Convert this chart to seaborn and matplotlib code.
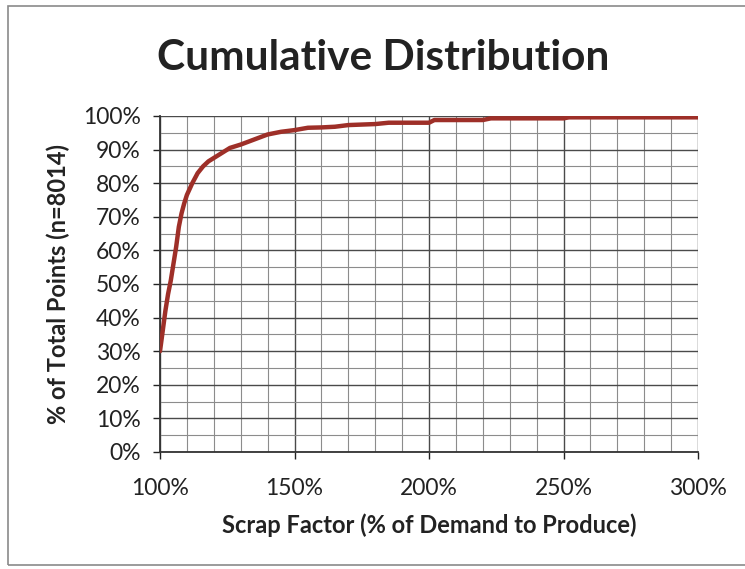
import matplotlib
matplotlib.use("Agg")
import matplotlib.pyplot as plt
import matplotlib.ticker as mticker
from matplotlib.patches import Rectangle
import numpy as np
import pandas as pd
import seaborn as sns

# Scrap factor (% of demand produced) and cumulative share of points (%)
scrap_factor = [100, 101, 102, 103, 104, 105, 106, 107, 108, 109, 110, 112, 114,
                116, 118, 120, 123, 126, 130, 135, 140, 145, 150, 155, 160, 165,
                170, 180, 185, 200, 202, 220, 223, 250, 252, 300]
cumulative_pct = [30, 36, 42, 47, 51, 56, 61, 67, 71, 74, 76.5, 80, 83,
                  85, 86.5, 87.5, 89, 90.5, 91.5, 93, 94.5, 95.3, 95.8, 96.5, 96.6, 96.8,
                  97.3, 97.6, 98.0, 98.0, 98.8, 98.8, 99.3, 99.3, 99.6, 99.6]

x_ticks = [100, 150, 200, 250, 300]
y_ticks = list(range(0, 101, 10))

df = pd.DataFrame({"scrap": scrap_factor, "cum": cumulative_pct})

sns.set_theme(style="white")
plt.rcParams["font.family"] = ["Lato", "DejaVu Sans"]

fig = plt.figure(figsize=(7.45, 5.69), dpi=100)
ax = fig.add_axes([160 / 745, 1 - 452 / 569, (698 - 160) / 745, (452 - 116) / 569])

# chart-area frame
fig.patches.append(Rectangle((8 / 745, 1 - 565 / 569), 1.0, (565 - 6) / 569,
                             transform=fig.transFigure, fill=False,
                             edgecolor="#8a8a8a", linewidth=1.2, zorder=0))

sns.lineplot(data=df, x="scrap", y="cum", ax=ax, color="#9e2f28",
             linewidth=3.2, zorder=5, solid_capstyle="round")

ax.set_xlim(100, 300)
ax.set_ylim(0, 100)
ax.xaxis.set_major_locator(mticker.FixedLocator(x_ticks))
ax.xaxis.set_minor_locator(mticker.MultipleLocator(10))
ax.yaxis.set_major_locator(mticker.FixedLocator(y_ticks))
ax.yaxis.set_minor_locator(mticker.MultipleLocator(5))
ax.xaxis.set_major_formatter(mticker.FuncFormatter(lambda v, p: f"{v:.0f}%"))
ax.yaxis.set_major_formatter(mticker.FuncFormatter(lambda v, p: f"{v:.0f}%"))

ax.grid(which="major", color="#4a4a4a", linewidth=1.0)
ax.grid(which="minor", color="#8c8c8c", linewidth=0.8)
ax.set_axisbelow(True)

for side in ["top", "right"]:
    ax.spines[side].set_visible(False)
for side in ["left", "bottom"]:
    ax.spines[side].set_color("#333333")
    ax.spines[side].set_linewidth(1.3)

ax.tick_params(axis="both", which="major", labelsize=16.5, colors="#222222",
               length=5, width=1, direction="out", bottom=True, left=True)
ax.tick_params(axis="x", which="major", pad=14)
ax.tick_params(axis="y", which="major", pad=9)
ax.tick_params(axis="both", which="minor", length=0)

ax.set_xlabel("Scrap Factor (% of Demand to Produce)", fontsize=17,
              fontweight="bold", color="#222222", labelpad=10)
ax.set_ylabel("% of Total Points (n=8014)", fontsize=17,
              fontweight="bold", color="#222222", labelpad=9)

fig.text(383 / 745, 1 - 58 / 569, "Cumulative Distribution", ha="center",
         va="center", fontsize=30.5, fontweight="bold", color="#222222")

fig.savefig("out.png", dpi=100, facecolor="white")
